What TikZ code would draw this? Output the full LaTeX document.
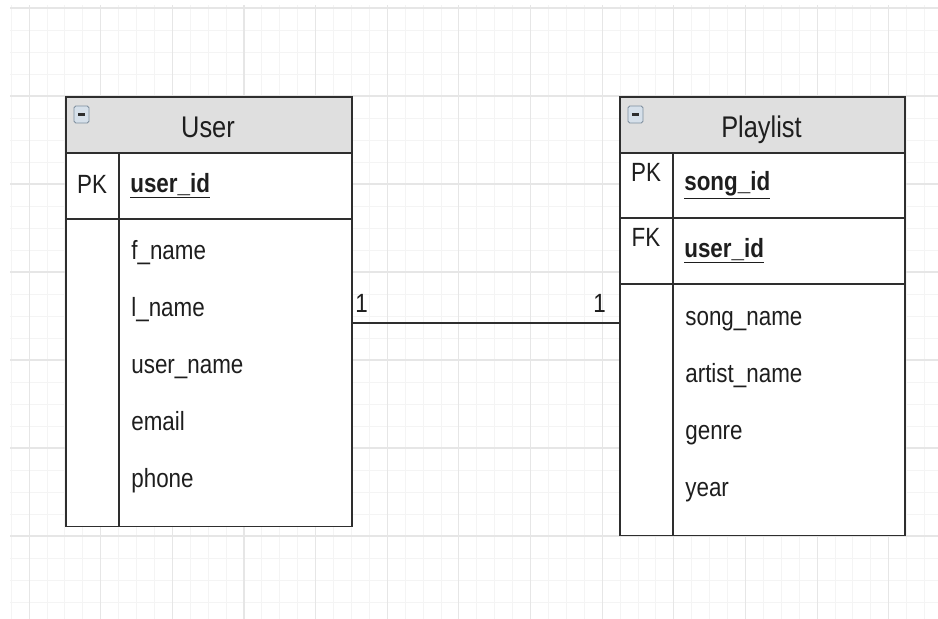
\documentclass[tikz,border=0pt]{standalone}
\usepackage{fontspec}
\setmainfont{Liberation Sans}[FakeStretch=0.85]
\usetikzlibrary{positioning}
\definecolor{gridminor}{HTML}{F4F4F4}
\definecolor{gridmajor}{HTML}{E6E6E6}
\definecolor{hdrgray}{HTML}{DFDFDF}
\definecolor{framegray}{HTML}{2E2E2E}
\definecolor{txtgray}{HTML}{1E1E1E}
\definecolor{iconfill}{HTML}{D6E0EA}
\definecolor{iconedge}{HTML}{7E8E9E}
\tikzset{%
  tframe/.style={draw=framegray,line width=0.9pt,fill=white,inner sep=0,anchor=north west},
  thead/.style={draw=framegray,line width=0.9pt,fill=hdrgray,inner sep=0,anchor=north west},
  tline/.style={draw=framegray,line width=0.9pt},
  ftxt/.style={anchor=base west,inner sep=0,text=txtgray,font=\fontsize{15}{18}\selectfont},
  ktxt/.style={anchor=base,inner sep=0,text=txtgray,font=\fontsize{15}{18}\selectfont},
  htxt/.style={anchor=base,inner sep=0,text=txtgray,font=\fontsize{17}{20}\selectfont},
  ctxt/.style={anchor=base west,inner sep=0,text=txtgray,font=\fontsize{15}{18}\selectfont},
  icon/.style={draw=iconedge,fill=iconfill,rounded corners=1pt,line width=0.5pt}
}
\newcommand{\keyname}[1]{\underline{\textbf{#1}}}

\begin{document}
\begin{tikzpicture}[x=0.02cm,y=-0.02cm]
  \useasboundingbox (0,0) rectangle (938,619);
  % grid
  \foreach \k [evaluate=\k as \xx using 11.15+17.91*\k] in {0,...,51}
    \draw[gridminor,line width=0.5pt] (\xx,5) -- (\xx,619);
  \foreach \j [evaluate=\j as \yy using 8+22*\j] in {0,...,27}
    \draw[gridminor,line width=0.5pt] (10,\yy) -- (938,\yy);
  \foreach \k [evaluate=\k as \xx using 29.06+71.64*\k] in {0,...,12}
    \draw[gridmajor,line width=0.6pt] (\xx,5) -- (\xx,619);
  \foreach \j [evaluate=\j as \yy using 8+88*\j] in {0,...,6}
    \draw[gridmajor,line width=0.6pt] (10,\yy) -- (938,\yy);

  % User table
  \node[tframe,minimum width=5.72cm,minimum height=8.6cm] (user) at (65,96) {};
  \node[thead,minimum width=5.72cm,minimum height=1.12cm] (user-hdr) at (65,96) {};
  \draw[icon] (74,106) rectangle (89,123);
  \draw[line width=1.2pt,framegray] (78,114.5) -- (85,114.5);
  \node[htxt] (user-title) at (208,137) {User};
  \draw[tline] (65,219) -- (351,219);
  \draw[tline] (119,152) -- (119,526);
  \node[ktxt] (user-pk) at (92,193) {PK};
  \node[ftxt] (user-id) at (130,192) {\keyname{user\_id}};
  \path (131,259) node[ftxt] (user-f1) {f\_name}
        (131,316) node[ftxt] (user-f2) {l\_name}
        (131,373) node[ftxt] (user-f3) {user\_name}
        (131,430) node[ftxt] (user-f4) {email}
        (131,487) node[ftxt] (user-f5) {phone};

  % Playlist table
  \node[tframe,minimum width=5.70cm,minimum height=8.78cm] (playlist) at (619,96) {};
  \node[thead,minimum width=5.70cm,minimum height=1.12cm] (playlist-hdr) at (619,96) {};
  \draw[icon] (628,106) rectangle (643,123);
  \draw[line width=1.2pt,framegray] (632,114.5) -- (639,114.5);
  \node[htxt] (playlist-title) at (761.5,137) {Playlist};
  \draw[tline] (619,218) -- (904,218);
  \draw[tline] (619,284) -- (904,284);
  \draw[tline] (673,152) -- (673,535);
  \node[ktxt] (playlist-pk) at (646,181) {PK};
  \node[ftxt] (playlist-id) at (684,190) {\keyname{song\_id}};
  \node[ktxt] (playlist-fk) at (646,246) {FK};
  \node[ftxt] (playlist-uid) at (684,257) {\keyname{user\_id}};
  \path (685,325) node[ftxt] (playlist-f1) {song\_name}
        (685,382) node[ftxt] (playlist-f2) {artist\_name}
        (685,439) node[ftxt] (playlist-f3) {genre}
        (685,496) node[ftxt] (playlist-f4) {year};

  % relation
  \coordinate (link) at (480,323);
  \draw[tline] (user.east |- link) -- (playlist.west |- link);
  \node[ctxt] (card-user) at (355,312) {1};
  \node[ctxt] (card-playlist) at (593,312) {1};
\end{tikzpicture}
\end{document}
